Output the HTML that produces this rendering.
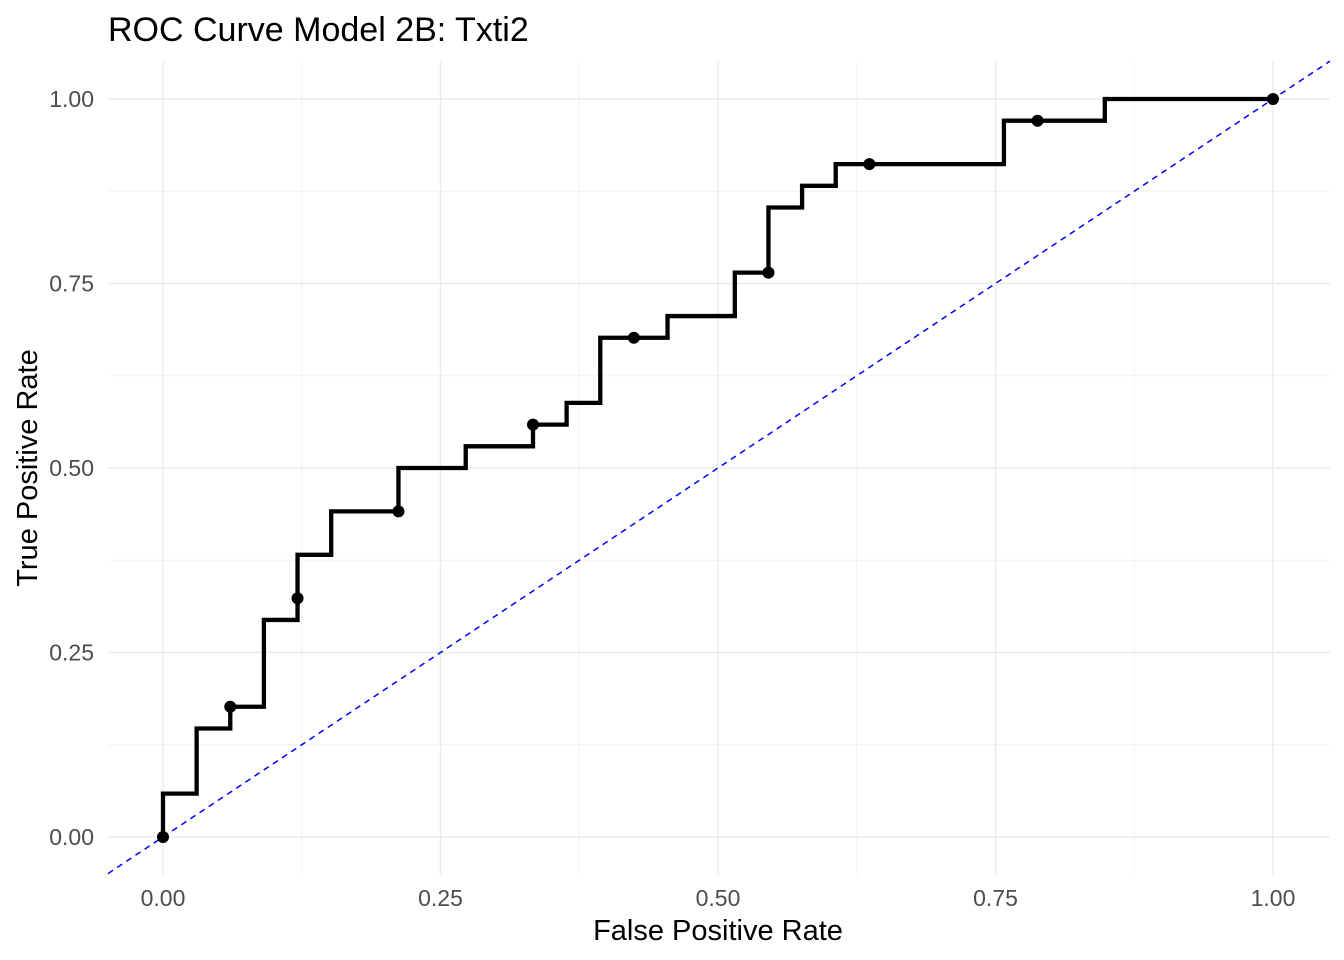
<!DOCTYPE html>
<html><head><meta charset="utf-8"><style>
body{margin:0;background:#fff}
svg{display:block;font-family:"Liberation Sans",Arial,sans-serif}
</style></head><body>
<svg id="chart" width="1344" height="960" viewBox="0 0 1344 960">
<rect width="1344" height="960" fill="#fff"/>
<g id="grid"></g>
<line id="diag" stroke="#0000ff" stroke-width="1.5" stroke-dasharray="6,5"/>
<path id="roc" fill="none" stroke="#000" stroke-width="4.3" stroke-linejoin="miter"/>
<g id="pts"></g>
<g id="ticks"></g>
<text x="108" y="41" font-size="34" fill="#000">ROC Curve Model 2B: Txti2</text>
<text x="718" y="940" font-size="29" text-anchor="middle" fill="#000">False Positive Rate</text>
<text transform="translate(37,468) rotate(-90)" font-size="29" text-anchor="middle" fill="#000">True Positive Rate</text>
</svg>
<script>
const stepFpr=[0,0,1/33,1/33,2/33,2/33,3/33,3/33,4/33,4/33,5/33,5/33,7/33,7/33,9/33,9/33,11/33,11/33,12/33,12/33,13/33,13/33,15/33,15/33,17/33,17/33,18/33,18/33,19/33,19/33,20/33,20/33,25/33,25/33,28/33,28/33,1];
const stepTpr=[0,2/34,2/34,5/34,5/34,6/34,6/34,10/34,10/34,13/34,13/34,15/34,15/34,17/34,17/34,18/34,18/34,19/34,19/34,20/34,20/34,23/34,23/34,24/34,24/34,26/34,26/34,29/34,29/34,30/34,30/34,31/34,31/34,33/34,33/34,1,1];
const pointFpr=[0,2/33,4/33,7/33,11/33,14/33,18/33,21/33,26/33,1];
const pointTpr=[0,6/34,11/34,15/34,19/34,23/34,26/34,31/34,33/34,1];
const tickVals=[0,0.25,0.5,0.75,1];
const tickLabels=["0.00","0.25","0.50","0.75","1.00"];
const NS="http://www.w3.org/2000/svg";
const X=v=>163+v*1110, Y=v=>837-v*738;
const L={x0:108,x1:1330,y0:62,y1:875};
const grid=document.getElementById('grid');
function ln(g,x1,y1,x2,y2,c,w){const e=document.createElementNS(NS,'line');e.setAttribute('x1',x1);e.setAttribute('y1',y1);e.setAttribute('x2',x2);e.setAttribute('y2',y2);e.setAttribute('stroke',c);e.setAttribute('stroke-width',w);g.appendChild(e);return e;}
for(let i=0;i<4;i++){const m=0.125+i*0.25;
const a=ln(grid,X(m),L.y0,X(m),L.y1,'#f2f2f2',1);


const b=ln(grid,L.x0,Y(m),L.x1,Y(m),'#f2f2f2',1);

}
const tg=document.getElementById('ticks');
tickVals.forEach((v,i)=>{
const a=ln(grid,X(v),L.y0,X(v),L.y1,'#ebebeb',1.5);


const b=ln(grid,L.x0,Y(v),L.x1,Y(v),'#ebebeb',1.5);


const tx=document.createElementNS(NS,'text');tx.setAttribute('x',X(v));tx.setAttribute('y',906);tx.setAttribute('text-anchor','middle');tx.setAttribute('font-size','23');tx.setAttribute('fill','#4d4d4d');tx.textContent=tickLabels[i];


tg.appendChild(tx);
const ty=document.createElementNS(NS,'text');ty.setAttribute('x',94);ty.setAttribute('y',Y(v)+8);ty.setAttribute('text-anchor','end');ty.setAttribute('font-size','23');ty.setAttribute('fill','#4d4d4d');ty.textContent=tickLabels[i];


tg.appendChild(ty);});
const d=document.getElementById('diag');
const dlo=(L.x0-163)/1110, dhi=(L.x1-163)/1110;
d.setAttribute('x1',X(dlo));d.setAttribute('y1',Y(dlo));d.setAttribute('x2',X(dhi));d.setAttribute('y2',Y(dhi));
document.getElementById('roc').setAttribute('d',stepFpr.map((f,i)=>(i?'L':'M')+X(f)+','+Y(stepTpr[i])).join(''));
const pg=document.getElementById('pts');
pointFpr.forEach((f,i)=>{const c=document.createElementNS(NS,'circle');c.setAttribute('cx',X(f));c.setAttribute('cy',Y(pointTpr[i]));c.setAttribute('r',6);c.setAttribute('fill','#000');


pg.appendChild(c);});
</script>
</body></html>
